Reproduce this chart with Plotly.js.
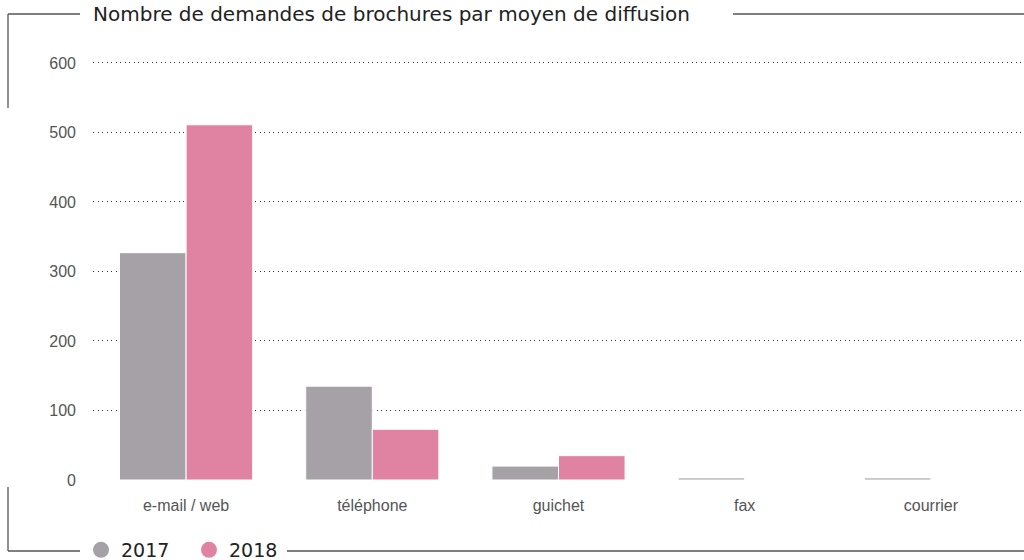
<!DOCTYPE html>
<html><head><meta charset="utf-8">
<script src="https://cdn.plot.ly/plotly-3.0.1.min.js"></script>
<style>html,body{margin:0;padding:0;background:#fff}#c{width:1024px;height:560px}</style>
</head><body><div id="c"></div>
<script>
const categories = ["e-mail / web", "téléphone", "guichet", "fax", "courrier"];
const values2017 = [327, 135, 20, 3, 3];
const values2018 = [511, 73, 35, 0, 0];
const seriesNames = ["2017", "2018"];
const yTicks = [0, 100, 200, 300, 400, 500, 600];

const GRAY = "#a6a1a6", PINK = "#e083a2";
const L = 93, T = 49, W = 931, H = 431;
const px = x => (x - L) / W;
const py = y => (T + H - y) / H;
function seg(x0, y0, x1, y1) {
  return {type: "line", xref: "paper", yref: "paper", x0: px(x0), y0: py(y0), x1: px(x1), y1: py(y1),
          line: {color: "#555", width: 1.3}};
}

const traces = [
  {type: "bar", x: categories, y: values2017, name: seriesNames[0], marker: {color: GRAY, line: {color: "#fff", width: 1}}, showlegend: false, hoverinfo: "y"},
  {type: "bar", x: categories, y: values2018, name: seriesNames[1], marker: {color: PINK, line: {color: "#fff", width: 1}}, showlegend: false, hoverinfo: "y"},
  {type: "scatter", mode: "markers", x: [null], y: [null], name: seriesNames[0], marker: {color: GRAY, size: 16, symbol: "circle"}},
  {type: "scatter", mode: "markers", x: [null], y: [null], name: seriesNames[1], marker: {color: PINK, size: 16, symbol: "circle"}}
];

const layout = {
  width: 1024, height: 560,
  margin: {l: L, r: 1024 - L - W, t: T, b: 560 - T - H, autoexpand: false},
  paper_bgcolor: "#fff", plot_bgcolor: "#fff",
  barmode: "group", bargap: 0.285, bargroupgap: 0,
  title: {text: "Nombre de demandes de brochures par moyen de diffusion",
          x: 93 / 1024, xanchor: "left", xref: "container", y: 1 - 14 / 560, yanchor: "middle", yref: "container",
          font: {family: "DejaVu Sans", size: 20, color: "#222"}},
  xaxis: {type: "category", range: [-0.5, 4.5], showgrid: false, zeroline: false, showline: false,
          ticks: "", ticklabelstandoff: 14,
          tickfont: {family: "Liberation Sans, Arial, sans-serif", size: 16, color: "#555"}},
  yaxis: {range: [0, 620], tickvals: yTicks, ticktext: yTicks.map(String), showgrid: true,
          gridcolor: "#333", griddash: "1px,3.5px", gridwidth: 1, zeroline: false, showline: false,
          ticks: "", ticklabelstandoff: 16,
          tickfont: {family: "Liberation Sans, Arial, sans-serif", size: 16, color: "#555"}},
  showlegend: true,
  legend: {orientation: "h", x: px(81), xanchor: "left", y: py(550), yanchor: "middle",
           font: {family: "DejaVu Sans", size: 19, color: "#222"}, bgcolor: "rgba(0,0,0,0)",
           entrywidth: 63, entrywidthmode: "pixels", tracegroupgap: 0, itemwidth: 30},
  shapes: [
    seg(8, 14, 80, 14), seg(733, 14, 1024, 14), seg(8, 14, 8, 108),
    seg(8, 487, 8, 551), seg(8, 551, 80, 551), seg(287, 551, 1024, 551)
  ]
};
Plotly.newPlot("c", traces, layout, {displayModeBar: false, staticPlot: true});
</script></body></html>
